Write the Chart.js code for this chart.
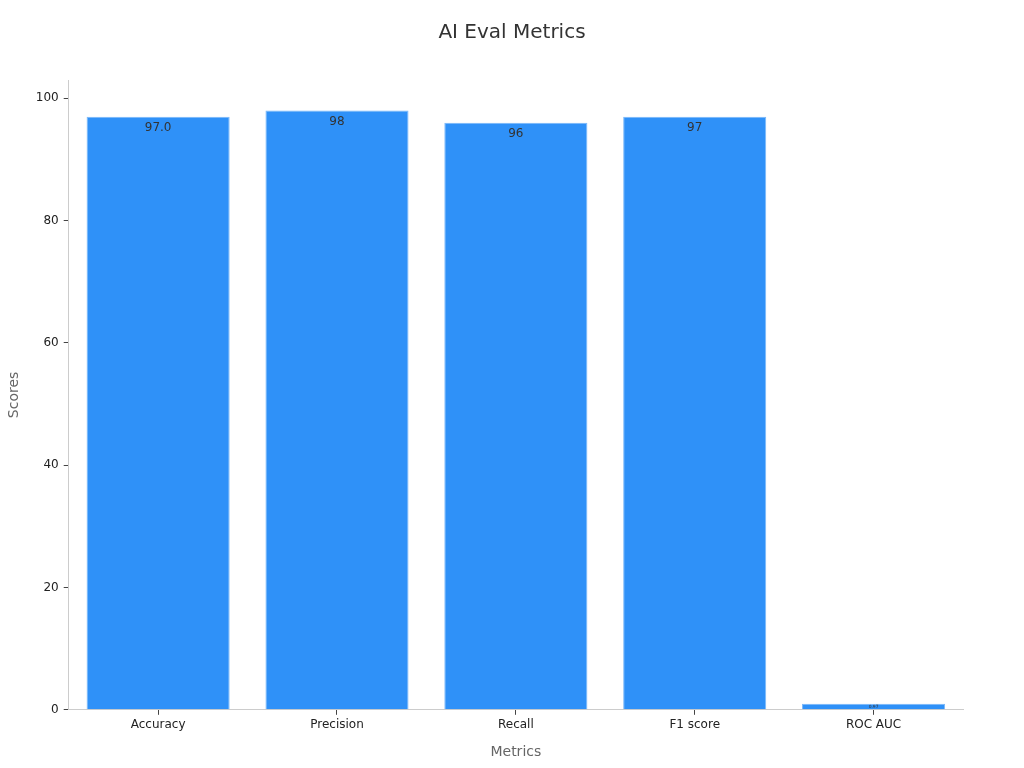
<!DOCTYPE html>
<html>
<head>
<meta charset="utf-8">
<script src="https://cdn.jsdelivr.net/npm/chart.js@4.4.1/dist/chart.umd.min.js"></script>
<style>
  html, body { margin: 0; padding: 0; background: #fff; }
  #wrap { width: 1024px; height: 768px; }
</style>
</head>
<body>
<div id="wrap"><canvas id="chart" width="1024" height="768"></canvas></div>
<script>
// data
const metrics = ['Accuracy', 'Precision', 'Recall', 'F1 score', 'ROC AUC'];
const scores = [97.0, 98, 96, 97, 0.97];
const scoreLabels = ['97.0', '98', '96', '97', '0.97'];
const yTicks = [0, 20, 40, 60, 80, 100];
const chartTitle = 'AI Eval Metrics';

// title centred on the whole canvas, value text inside the top of each bar
const decorations = {
    id: 'decorations',
    afterDatasetsDraw(chart) {
        const ctx = chart.ctx;
        ctx.save();
        ctx.fillStyle = '#333';
        ctx.font = '20px "DejaVu Sans"';
        ctx.textAlign = 'center';
        ctx.textBaseline = 'middle';
        ctx.fillText(chartTitle, chart.width / 2, 33);

        const meta = chart.getDatasetMeta(0);
        meta.data.forEach((bar, i) => {
            const h = bar.base - bar.y;
            ctx.save();
            ctx.beginPath();
            ctx.rect(bar.x - bar.width / 2, bar.y, bar.width, h);
            ctx.clip();
            if (h < 16) {
                // short bar: shrink the text to fit it
                ctx.font = Math.max(4, h - 1) + 'px "DejaVu Sans"';
                ctx.textBaseline = 'middle';
                ctx.fillText(scoreLabels[i], bar.x, bar.y + h / 2);
            } else {
                ctx.font = '12px "DejaVu Sans"';
                ctx.textBaseline = 'top';
                ctx.fillText(scoreLabels[i], bar.x, bar.y + 5);
            }
            ctx.restore();
        });
        ctx.restore();
    }
};

Chart.defaults.font.family = '"DejaVu Sans", sans-serif';

new Chart(document.getElementById('chart'), {
    type: 'bar',
    data: {
        labels: metrics,
        datasets: [{
            data: scores,
            backgroundColor: '#2f91f8',
            borderColor: '#7ab8fa',
            borderWidth: 1,
            barPercentage: 0.8,
            categoryPercentage: 1.0,
        }]
    },
    options: {
        responsive: false,
        animation: false,
        layout: { padding: { left: 2, right: 61, top: 80, bottom: 3 } },
        plugins: {
            legend: { display: false },
            tooltip: { enabled: false },
            title: { display: false }
        },
        scales: {
            x: {
                grid: { offset: false, drawOnChartArea: false, drawTicks: true, tickLength: 5, color: '#444' },
                border: { display: true, color: '#ccc' },
                ticks: { color: '#222', font: { size: 12 }, padding: 3 },
                title: { display: true, text: 'Metrics', color: '#666', font: { size: 14 }, padding: { top: 9 } }
            },
            y: {
                min: 0,
                max: 103,
                afterBuildTicks(scale) {
                    scale.ticks = yTicks.map(v => ({ value: v }));
                },
                grid: { drawOnChartArea: false, drawTicks: true, tickLength: 5, color: '#444' },
                border: { display: true, color: '#ccc' },
                ticks: { color: '#222', font: { size: 12 }, padding: 5 },
                title: { display: true, text: 'Scores', color: '#666', font: { size: 14 }, padding: { bottom: 8 } }
            }
        }
    },
    plugins: [decorations]
});
</script>
</body>
</html>
